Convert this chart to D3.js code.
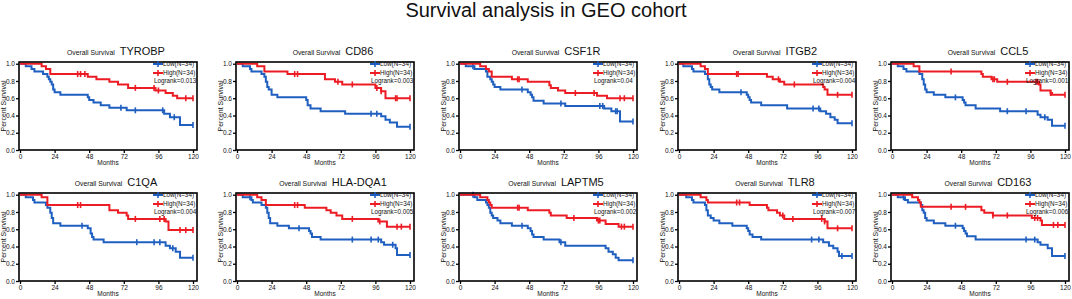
<!DOCTYPE html>
<html>
<head>
<meta charset="utf-8">
<script src="https://cdn.jsdelivr.net/npm/d3@7"></script>
<style>
  body { margin: 0; background: #fff; }
  svg { display: block; font-family: "Liberation Sans", Arial, sans-serif; }
</style>
</head>
<body>
<div id="chart"></div>
<script>
// genes shown, in reading order (row 1 then row 2)
const genes = ['TYROBP', 'CD86', 'CSF1R', 'ITGB2', 'CCL5', 'C1QA', 'HLA-DQA1', 'LAPTM5', 'TLR8', 'CD163']
const logrank = ['0.013', '0.003', '0.04', '0.004', '0.001', '0.004', '0.005', '0.002', '0.007', '0.006']
const legendLabels = ['Low(N=34)', 'High(N=34)']
const xTicks = [0, 24, 48, 72, 96, 120]
const yTicks = [0, 0.2, 0.4, 0.6, 0.8, 1.0]

// step points [month, survival], low expression group
const lowSteps = [
  [[0,1],[4,0.97],[8,0.94],[10,0.91],[16,0.88],[19,0.85],[20,0.82],[21,0.79],[22,0.76],[23,0.70],[24,0.67],[28,0.64],[47,0.61],[48,0.58],[51,0.55],[56,0.52],[62,0.49],[74,0.46],[100,0.42],[104,0.38],[111,0.29]],
  [[0,1],[4,0.97],[9,0.94],[10,0.91],[17,0.88],[19,0.85],[20,0.79],[21,0.73],[22,0.70],[24,0.64],[28,0.61],[48,0.58],[49,0.52],[51,0.48],[58,0.45],[75,0.42],[100,0.39],[103,0.35],[106,0.32],[111,0.27]],
  [[0,1],[4,0.97],[10,0.94],[18,0.91],[19,0.85],[21,0.82],[22,0.79],[23,0.76],[24,0.73],[28,0.70],[47,0.67],[49,0.64],[50,0.61],[51,0.57],[58,0.54],[73,0.51],[100,0.48],[105,0.45],[111,0.33]],
  [[0,1],[3,0.97],[9,0.94],[10,0.91],[18,0.88],[20,0.82],[21,0.76],[22,0.73],[23,0.70],[28,0.67],[47,0.64],[48,0.61],[49,0.58],[50,0.55],[57,0.52],[75,0.48],[98,0.45],[102,0.42],[105,0.38],[108,0.35],[110,0.31]],
  [[0,1],[4,0.97],[8,0.94],[10,0.91],[19,0.88],[21,0.82],[22,0.76],[23,0.70],[24,0.67],[29,0.64],[37,0.61],[49,0.58],[50,0.55],[51,0.52],[58,0.48],[75,0.45],[101,0.41],[103,0.38],[108,0.35],[111,0.28]],
  [[0,1],[4,0.97],[9,0.94],[10,0.91],[18,0.88],[19,0.85],[21,0.79],[22,0.73],[23,0.67],[28,0.64],[47,0.61],[49,0.55],[50,0.51],[51,0.48],[58,0.45],[101,0.41],[104,0.38],[108,0.34],[111,0.27]],
  [[0,1],[4,0.97],[10,0.94],[11,0.91],[17,0.88],[20,0.85],[21,0.79],[22,0.73],[23,0.67],[28,0.64],[36,0.61],[50,0.58],[51,0.55],[52,0.51],[58,0.48],[100,0.45],[102,0.42],[110,0.38],[111,0.30]],
  [[0,1],[10,0.97],[12,0.94],[18,0.91],[19,0.88],[20,0.85],[21,0.79],[22,0.76],[23,0.73],[26,0.70],[28,0.67],[36,0.64],[47,0.61],[49,0.58],[50,0.54],[51,0.51],[58,0.48],[69,0.45],[73,0.41],[101,0.38],[103,0.34],[106,0.31],[108,0.27],[110,0.24]],
  [[0,1],[5,0.97],[9,0.94],[10,0.91],[18,0.88],[19,0.82],[20,0.76],[22,0.73],[24,0.70],[28,0.67],[37,0.64],[47,0.61],[48,0.58],[49,0.54],[51,0.51],[57,0.48],[100,0.45],[104,0.41],[107,0.38],[110,0.34],[111,0.29]],
  [[0,1],[4,0.97],[9,0.94],[11,0.91],[20,0.88],[21,0.82],[22,0.79],[23,0.73],[24,0.70],[29,0.67],[37,0.64],[49,0.61],[50,0.58],[51,0.55],[52,0.52],[58,0.48],[101,0.45],[103,0.42],[108,0.38],[111,0.29]]
]

// step points, high expression group
const highSteps = [
  [[0,1],[15,0.97],[18,0.94],[21,0.88],[47,0.85],[53,0.82],[62,0.79],[68,0.76],[75,0.72],[94,0.69],[101,0.66],[106,0.63],[109,0.60]],
  [[0,1],[14,0.97],[19,0.91],[35,0.88],[61,0.82],[68,0.79],[73,0.76],[96,0.72],[100,0.68],[103,0.60]],
  [[0,1],[14,0.97],[18,0.94],[20,0.91],[22,0.85],[36,0.82],[47,0.79],[62,0.75],[63,0.72],[68,0.69],[73,0.66],[95,0.63],[102,0.60]],
  [[0,1],[15,0.97],[18,0.94],[20,0.88],[61,0.85],[65,0.82],[70,0.79],[73,0.76],[100,0.73],[101,0.70],[103,0.64]],
  [[0,1],[15,0.97],[19,0.91],[62,0.88],[63,0.85],[69,0.82],[73,0.79],[102,0.76],[103,0.69],[110,0.66],[111,0.64]],
  [[0,1],[15,0.97],[19,0.88],[62,0.82],[68,0.79],[74,0.76],[75,0.72],[101,0.69],[103,0.59]],
  [[0,1],[14,0.97],[17,0.94],[20,0.88],[47,0.85],[62,0.82],[65,0.79],[69,0.76],[73,0.72],[98,0.69],[104,0.63]],
  [[0,1],[14,0.97],[19,0.94],[20,0.91],[21,0.88],[22,0.85],[47,0.82],[62,0.79],[63,0.76],[74,0.73],[95,0.70],[101,0.66],[110,0.63]],
  [[0,1],[15,0.97],[19,0.94],[20,0.91],[49,0.88],[61,0.85],[62,0.82],[68,0.79],[70,0.76],[73,0.72],[101,0.69],[103,0.61]],
  [[0,1],[14,0.97],[18,0.94],[19,0.91],[20,0.86],[62,0.82],[64,0.79],[70,0.76],[97,0.73],[103,0.70],[104,0.65]]
]

// censored times (months)
const lowCensor = [
  [70, 80, 99, 107, 120],
  [93, 97, 120],
  [9, 43, 70, 97, 99, 108, 109, 120],
  [43, 93, 97, 120],
  [44, 80, 93, 106, 120],
  [43, 81, 93, 97, 106, 120],
  [9, 43, 80, 93, 98, 108, 120],
  [9, 43, 70, 120],
  [92, 97, 113, 120],
  [8, 44, 93, 99, 120]
]
const highCensor = [
  [40, 42, 45, 80, 93, 96, 115, 120],
  [40, 42, 70, 80, 97, 100, 110, 111, 120],
  [40, 41, 80, 93, 111, 114, 120],
  [40, 41, 69, 80, 110, 120],
  [41, 70, 71, 80, 100, 101, 110, 120],
  [40, 42, 80, 97, 100, 111, 115, 120],
  [40, 42, 80, 99, 111, 114, 120],
  [40, 41, 79, 96, 97, 112, 114, 120],
  [40, 42, 72, 79, 99, 101, 110, 120],
  [41, 51, 70, 80, 99, 101, 112, 115, 120]
]

const colors = ['#1f5fc0', '#ec1c24']
const width = 1072
const height = 299
const colX = [19, 236, 459, 678, 891]
const rowY = [62, 193]
const pw = 178
const ph = 88

const svg = d3.select('#chart')
  .append('svg')
  .attr('width', width)
  .attr('height', height)

svg.append('text')
  .attr('x', 546)
  .attr('y', 17)
  .attr('text-anchor', 'middle')
  .attr('font-size', 20)
  .attr('fill', '#111')
  .text('Survival analysis in GEO cohort')

// survival value at time t for a step list
function survAt(steps, t){
  let s = steps[0][1]
  steps.forEach(p => { if (p[0] <= t) s = p[1] })
  return s
}

genes.forEach((gene, i) => {
  const g = svg.append('g')
    .attr('transform', `translate(${colX[i % 5]}, ${rowY[Math.floor(i / 5)]})`)

  const x = d3.scaleLinear().domain([0, 120]).range([1, pw - 4])
  const y = d3.scaleLinear().domain([0, 1.02]).range([ph, 0])

  // title
  const title = g.append('text')
    .attr('x', pw / 2 + 8)
    .attr('y', -7)
    .attr('text-anchor', 'middle')
    .attr('fill', '#111')
  title.append('tspan').attr('font-size', 6.8).text('Overall Survival')
  title.append('tspan').attr('font-size', 11).attr('dx', 5).text(gene)

  // axes
  const leftAxis = g.append('g')
    .call(d3.axisLeft(y).tickValues(yTicks).tickSize(3).tickFormat(d3.format('.1f')))
  const bottomAxis = g.append('g')
    .attr('transform', `translate(0, ${ph})`)
    .call(d3.axisBottom(x).tickValues(xTicks).tickSize(3))
  ;[leftAxis, bottomAxis].forEach(a => {
    a.select('.domain').remove()
    a.selectAll('line').attr('stroke', '#000').attr('stroke-width', 1.3)
    a.selectAll('text').attr('font-size', 6.5).attr('fill', '#111')
      .attr('font-family', '"Liberation Sans", Arial, sans-serif')
  })
  leftAxis.selectAll('text').attr('x', -4)
  bottomAxis.selectAll('text').attr('y', 4)

  g.append('text')
    .attr('transform', `translate(-13, ${ph / 2}) rotate(-90)`)
    .attr('text-anchor', 'middle')
    .attr('font-size', 7)
    .attr('fill', '#111')
    .text('Percent Survival')

  g.append('text')
    .attr('x', pw / 2)
    .attr('y', ph + 15)
    .attr('text-anchor', 'middle')
    .attr('font-size', 6.5)
    .attr('fill', '#111')
    .text('Months')

  // curves
  const line = d3.line()
    .x(d => x(d[0]))
    .y(d => y(d[1]))
    .curve(d3.curveStepAfter)

  const groups = [
    {steps: lowSteps[i], censor: lowCensor[i], color: colors[0]},
    {steps: highSteps[i], censor: highCensor[i], color: colors[1]}
  ]

  groups.forEach(grp => {
    const last = grp.steps[grp.steps.length - 1]
    const end = d3.max(grp.censor)
    const pts = grp.steps.concat([[end, last[1]]])
    g.append('path')
      .datum(pts)
      .attr('d', line)
      .attr('fill', 'none')
      .attr('stroke', grp.color)
      .attr('stroke-width', 2)

    g.selectAll(null)
      .data(grp.censor)
      .enter()
      .append('line')
      .attr('x1', t => x(t))
      .attr('x2', t => x(t))
      .attr('y1', t => y(survAt(grp.steps, t)) - 3)
      .attr('y2', t => y(survAt(grp.steps, t)) + 3)
      .attr('stroke', grp.color)
      .attr('stroke-width', 1.6)
  })

  // box
  g.append('rect')
    .attr('width', pw)
    .attr('height', ph)
    .attr('fill', 'none')
    .attr('stroke', '#000')
    .attr('stroke-width', 1.6)

  // legend
  legendLabels.forEach((lab, k) => {
    const ly = 2 + k * 9
    g.append('line')
      .attr('x1', 134).attr('x2', 144)
      .attr('y1', ly).attr('y2', ly)
      .attr('stroke', colors[k]).attr('stroke-width', 2)
    g.append('line')
      .attr('x1', 139).attr('x2', 139)
      .attr('y1', ly - 3).attr('y2', ly + 3)
      .attr('stroke', colors[k]).attr('stroke-width', 1.6)
    g.append('text')
      .attr('x', 144)
      .attr('y', ly + 2.3)
      .attr('font-size', 6.3)
      .attr('fill', '#111')
      .text(lab)
  })
  g.append('text')
    .attr('x', 135)
    .attr('y', 21)
    .attr('font-size', 6.3)
    .attr('fill', '#111')
    .text('Logrank=' + logrank[i])
})
</script>
</body>
</html>
